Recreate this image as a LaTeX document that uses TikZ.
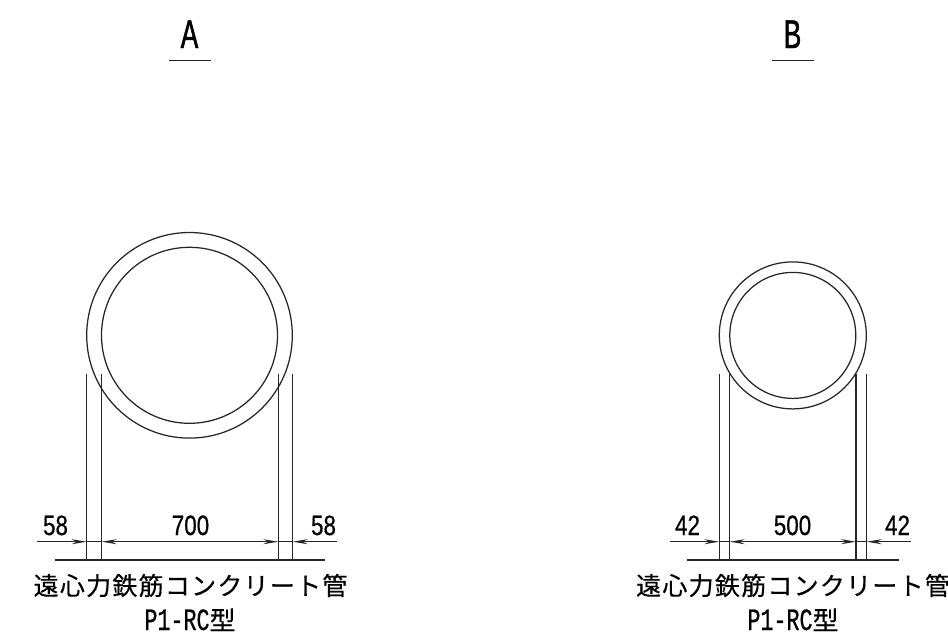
\documentclass[tikz,border=0pt]{standalone}
\usepackage{fontspec}
\setmainfont{Liberation Sans}
\newfontfamily\cjkfont[LetterSpace=5,FakeBold=0.4]{Noto Sans CJK JP}
\newfontfamily\numfont[FakeStretch=0.80,FakeBold=0.5]{Liberation Sans}
\newfontfamily\subfont[FakeStretch=0.70,FakeBold=0.6]{Liberation Mono}
\newfontfamily\titlefont[FakeStretch=0.66,FakeBold=1.2]{Liberation Sans}
\newfontfamily\kanjifont[FakeBold=0.4]{Noto Sans CJK JP}
\usetikzlibrary{arrows.meta}
\tikzset{
  px/.style={x=1pt,y=-1pt},
  line/.style={draw=black!85,line width=1.25pt},
  dimline/.style={line,{Stealth[length=15pt,width=5pt]}-{Stealth[length=15pt,width=5pt]}},
  dimarr/.style={line,-{Stealth[length=15pt,width=5pt]}},
  lab/.style={inner sep=0pt,font=\numfont\fontsize{28}{28}\selectfont,anchor=base},
  title/.style={inner sep=0pt,font=\titlefont\fontsize{40}{40}\selectfont,anchor=base},
  jp/.style={inner sep=0pt,font=\cjkfont\fontsize{25}{25}\selectfont,anchor=center},
  sub/.style={inner sep=0pt,font=\subfont\fontsize{31}{31}\selectfont,anchor=base},
}
\begin{document}
\begin{tikzpicture}[px]
\useasboundingbox (0,0) rectangle (948,641);
% Titles
\node[title] (ta) at (189.5,48) {A};
\node[title] (tb) at (792.5,48) {B};
\coordinate (ua1) at (169,60.5); \coordinate (ua2) at (211,60.5);
\coordinate (ub1) at (772,60.5); \coordinate (ub2) at (814,60.5);
\draw[line] (ua1) -- (ua2);
\draw[line] (ub1) -- (ub2);
% Pipe A
\node[line,circle,minimum size=205.6pt,inner sep=0pt] (oa) at (189.5,335.3) {};
\node[line,circle,minimum size=176pt,inner sep=0pt] (ia) at (189.5,335.3) {};
\foreach \n/\x in {a1/86.7,a2/101.7,a3/278.3,a4/292.7}{
  \coordinate (\n t) at (\x,374); \coordinate (\n b) at (\x,560); \coordinate (\n d) at (\x,541.7);
  \draw[line] (\n t) -- (\n b);
}
\coordinate (al) at (37,541.7); \coordinate (ar) at (337,541.7);
\coordinate (bal) at (55,560); \coordinate (bar) at (325,560);
\draw[line] (bal) -- (bar);
\draw[dimarr] (al) -- (a1d);
\draw[line] (a1d) -- (a2d);
\draw[dimline] (a2d) -- (a3d);
\draw[line] (a3d) -- (a4d);
\draw[dimarr] (ar) -- (a4d);
\node[lab] (l58a) at (55.5,535) {58};
\node[lab] (l700) at (190.5,535) {700};
\node[lab] (l58b) at (323.5,535) {58};
\node[jp] (ja) at (190.5,585.5) {遠心力鉄筋コンクリート管};
\node[sub] (pa) at (190,630) {P1-RC{\kanjifont\fontsize{26}{26}\selectfont 型}};
% Pipe B
\node[line,circle,minimum size=147pt,inner sep=0pt] (ob) at (792.8,335.4) {};
\node[line,circle,minimum size=126pt,inner sep=0pt] (ib) at (792.8,335.4) {};
\foreach \n/\x in {b1/719.3,b2/729.7,b3/856,b4/866.7}{
  \coordinate (\n t) at (\x,374); \coordinate (\n b) at (\x,560); \coordinate (\n d) at (\x,541.7);
  \draw[line] (\n t) -- (\n b);
}
\coordinate (bl) at (670,541.7); \coordinate (br) at (911,541.7);
\coordinate (bbl) at (687,560); \coordinate (bbr) at (899,560);
\draw[line] (bbl) -- (bbr);
\draw[dimarr] (bl) -- (b1d);
\draw[line] (b1d) -- (b2d);
\draw[dimline] (b2d) -- (b3d);
\draw[line] (b3d) -- (b4d);
\draw[dimarr] (br) -- (b4d);
\node[lab] (l42a) at (687.5,535) {42};
\node[lab] (l500) at (792.5,535) {500};
\node[lab] (l42b) at (897.5,535) {42};
\node[jp] (jb) at (793,585.5) {遠心力鉄筋コンクリート管};
\node[sub] (pb) at (793,630) {P1-RC{\kanjifont\fontsize{26}{26}\selectfont 型}};
\end{tikzpicture}
\end{document}
